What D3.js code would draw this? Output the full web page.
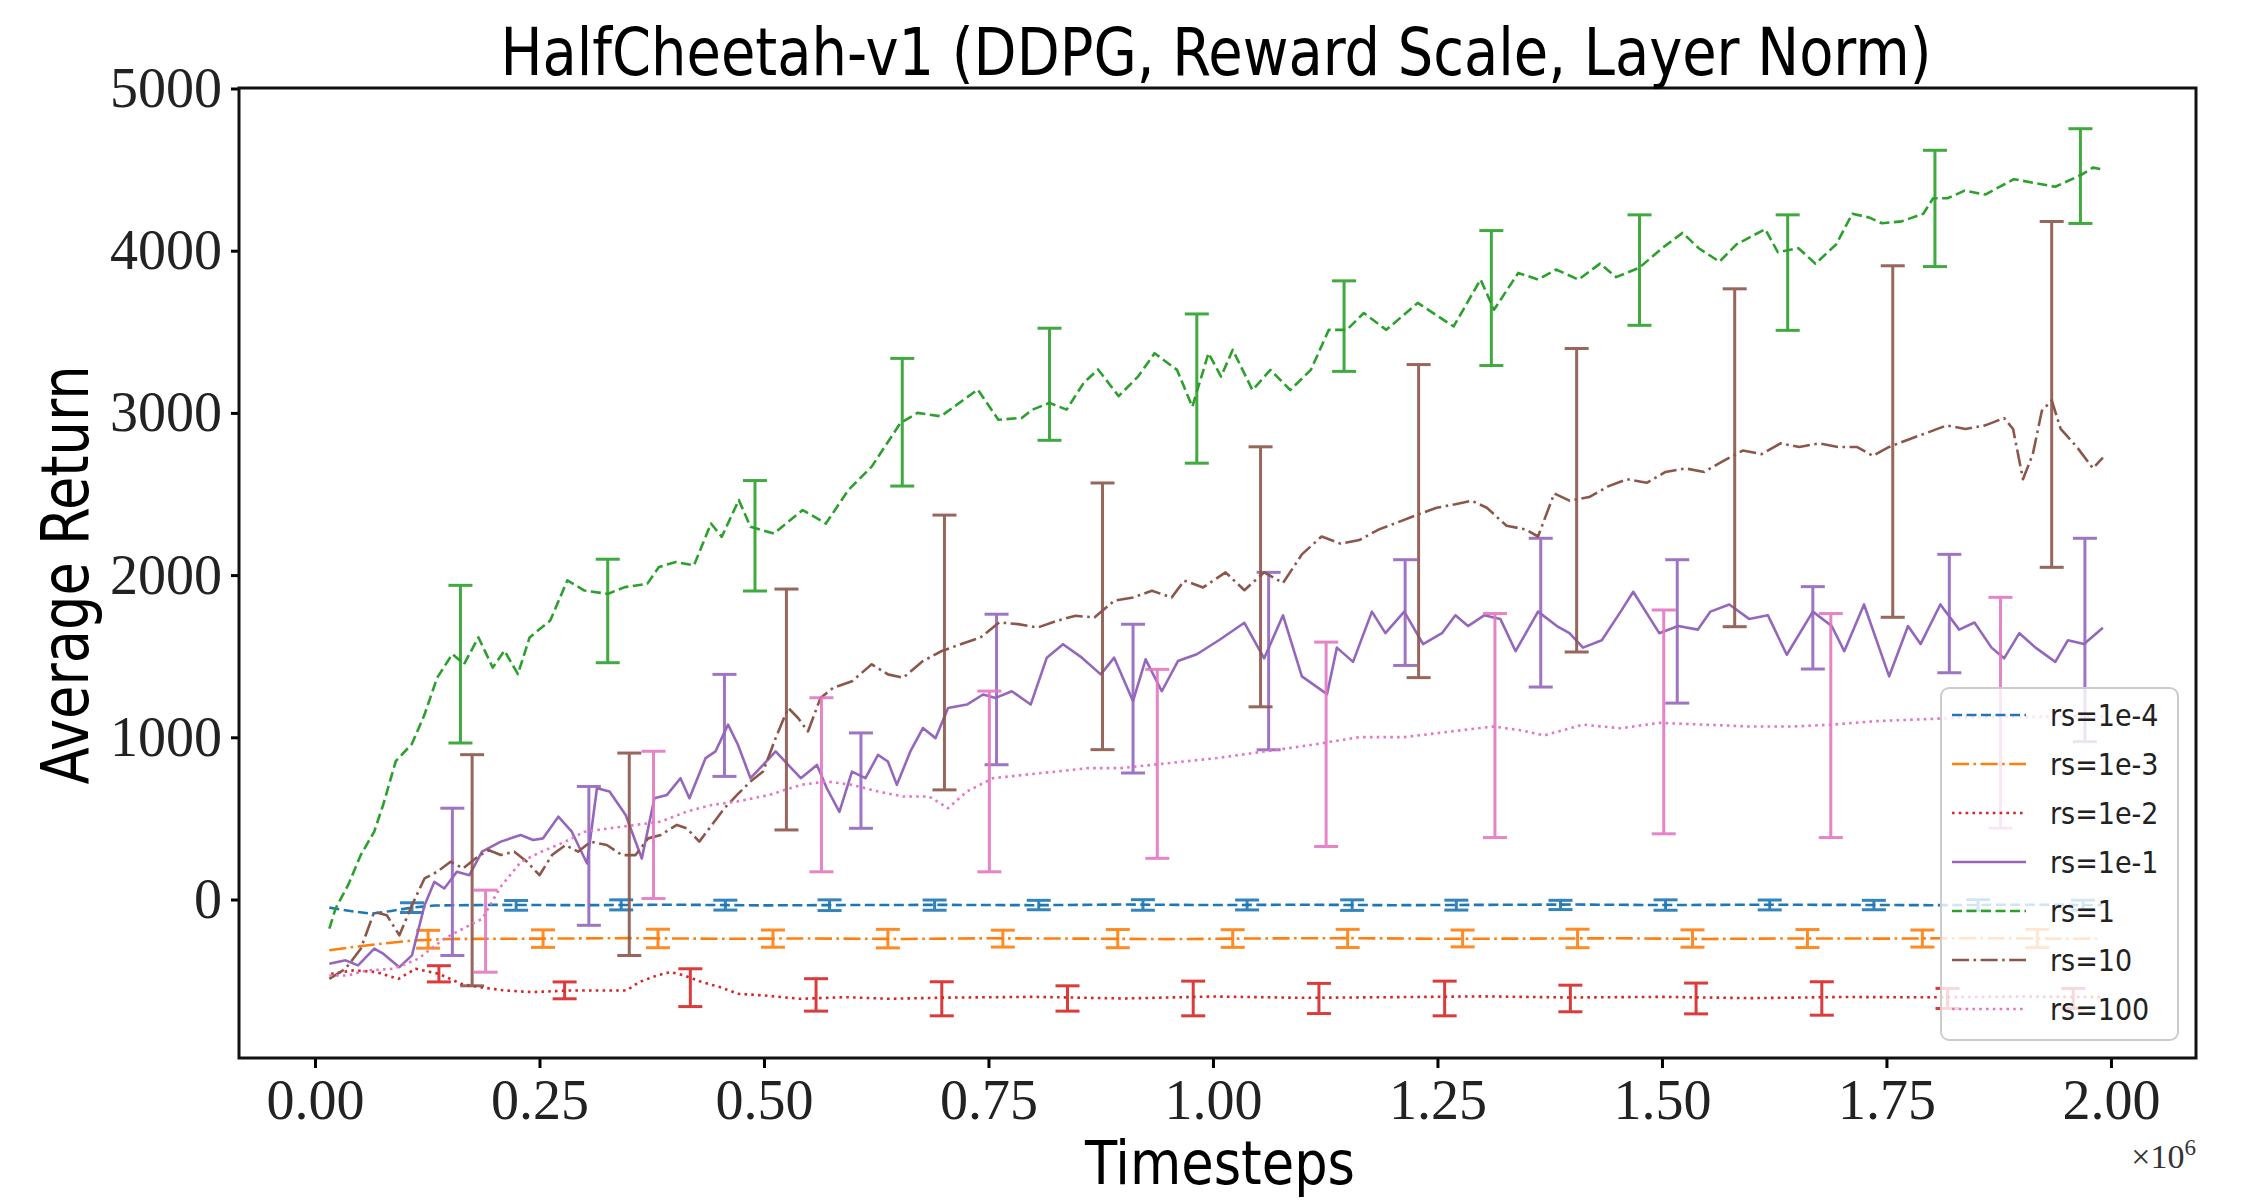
<!DOCTYPE html>
<html>
<head>
<meta charset="utf-8">
<script src="https://cdn.jsdelivr.net/npm/d3@7/dist/d3.min.js"></script>
<style>
	body { margin: 0; background: #fff; }
</style>
</head>
<body>
<div id="chart"></div>
<script>
(function() {
	"use strict";

	// x values are timesteps in units of 1e6
	var seriesNames = ["rs=1e-4", "rs=1e-3", "rs=1e-2", "rs=1e-1", "rs=1", "rs=10", "rs=100"];
	var xTickValues = [0, 0.25, 0.5, 0.75, 1.0, 1.25, 1.5, 1.75, 2.0];
	var xTickLabels = ["0.00", "0.25", "0.50", "0.75", "1.00", "1.25", "1.50", "1.75", "2.00"];
	var yTickValues = [0, 1000, 2000, 3000, 4000, 5000];

	// rs=1e-4
	var steps_1e4 = [0.016, 0.043, 0.063, 0.083, 0.108, 0.133, 0.2, 0.3, 0.4, 0.5, 0.6, 0.7, 0.8, 0.9, 1.0, 1.1, 1.2, 1.3, 1.4, 1.5, 1.6, 1.7, 1.8, 1.9, 1.99];
	var ret_1e4 = [-50, -74, -87, -72, -50, -37, -33, -35, -32, -36, -34, -33, -35, -31, -34, -32, -35, -33, -31, -34, -32, -33, -35, -32, -34];
	var errSteps_1e4 = [0.108, 0.224, 0.341, 0.457, 0.573, 0.690, 0.806, 0.922, 1.038, 1.155, 1.271, 1.387, 1.504, 1.620, 1.736, 1.852, 1.969];
	var errLo_1e4 = [-80, -66, -64, -65, -68, -66, -63, -66, -64, -67, -65, -62, -66, -64, -63, -66, -65];
	var errHi_1e4 = [-20, -6, -2, -4, -2, -3, -5, -1, -3, -2, -4, -5, -2, -3, -5, -1, -4];

	// rs=1e-3
	var steps_1e3 = [0.016, 0.043, 0.075, 0.110, 0.15, 0.25, 0.35, 0.45, 0.55, 0.65, 0.75, 0.85, 0.95, 1.05, 1.15, 1.25, 1.35, 1.45, 1.55, 1.65, 1.75, 1.85, 1.95, 1.99];
	var ret_1e3 = [-313, -292, -272, -252, -243, -241, -238, -242, -240, -243, -239, -241, -244, -240, -238, -242, -241, -239, -243, -240, -241, -238, -242, -240];
	var errSteps_1e3 = [0.126, 0.254, 0.382, 0.510, 0.638, 0.766, 0.894, 1.022, 1.150, 1.278, 1.406, 1.534, 1.662, 1.790, 1.918];
	var errLo_1e3 = [-300, -295, -297, -294, -298, -293, -297, -295, -296, -292, -297, -294, -296, -293, -296];
	var errHi_1e3 = [-190, -187, -183, -188, -184, -189, -185, -186, -184, -188, -183, -187, -185, -188, -184];

	// rs=1e-2
	var steps_1e2 = [0.018, 0.043, 0.068, 0.093, 0.112, 0.138, 0.163, 0.183, 0.212, 0.242, 0.282, 0.317, 0.347, 0.361, 0.381, 0.396, 0.411, 0.431, 0.451, 0.471, 0.501, 0.540, 0.590, 0.640, 0.70, 0.80, 0.90, 1.0, 1.1, 1.2, 1.3, 1.4, 1.5, 1.6, 1.7, 1.8, 1.9, 1.99];
	var ret_1e2 = [-458, -437, -447, -489, -427, -458, -520, -540, -561, -571, -561, -561, -561, -509, -468, -447, -468, -509, -540, -581, -592, -612, -602, -612, -605, -600, -610, -598, -606, -602, -597, -604, -600, -608, -601, -603, -598, -602];
	var errSteps_1e2 = [0.138, 0.278, 0.418, 0.558, 0.698, 0.838, 0.978, 1.118, 1.258, 1.398, 1.538, 1.678, 1.818, 1.958];
	var errLo_1e2 = [-508, -612, -660, -688, -717, -688, -717, -703, -717, -692, -705, -713, -672, -672];
	var errHi_1e2 = [-408, -508, -427, -488, -507, -532, -503, -517, -503, -528, -515, -507, -548, -548];

	// rs=1e-1
	var steps_1e1 = [0.016, 0.034, 0.048, 0.066, 0.076, 0.094, 0.108, 0.122, 0.133, 0.144, 0.158, 0.172, 0.186, 0.207, 0.229, 0.243, 0.254, 0.271, 0.286, 0.303, 0.314, 0.328, 0.346, 0.364, 0.378, 0.392, 0.407, 0.417, 0.435, 0.446, 0.460, 0.471, 0.485, 0.499, 0.513, 0.527, 0.541, 0.559, 0.570, 0.584, 0.598, 0.613, 0.627, 0.638, 0.648, 0.663, 0.677, 0.691, 0.705, 0.726, 0.744, 0.758, 0.776, 0.797, 0.815, 0.833, 0.854, 0.875, 0.890, 0.911, 0.925, 0.943, 0.961, 0.982, 1.007, 1.035, 1.057, 1.078, 1.099, 1.127, 1.138, 1.156, 1.177, 1.192, 1.213, 1.234, 1.255, 1.270, 1.284, 1.302, 1.320, 1.337, 1.362, 1.383, 1.397, 1.412, 1.433, 1.454, 1.468, 1.497, 1.518, 1.540, 1.554, 1.575, 1.597, 1.618, 1.639, 1.668, 1.689, 1.703, 1.725, 1.753, 1.774, 1.788, 1.810, 1.831, 1.848, 1.867, 1.881, 1.898, 1.916, 1.938, 1.952, 1.970, 1.991];
	var ret_1e1 = [-396, -375, -406, -303, -334, -417, -344, -35, 109, 68, 171, 150, 295, 357, 398, 367, 377, 511, 418, 222, 686, 666, 521, 253, 624, 645, 748, 624, 872, 913, 1078, 954, 748, 830, 913, 830, 748, 830, 686, 541, 789, 748, 892, 851, 707, 913, 1057, 995, 1181, 1202, 1264, 1243, 1284, 1202, 1491, 1574, 1491, 1388, 1491, 1223, 1481, 1284, 1470, 1512, 1600, 1706, 1487, 1752, 1376, 1266, 1553, 1465, 1775, 1642, 1775, 1575, 1642, 1752, 1686, 1752, 1730, 1531, 1775, 1686, 1642, 1553, 1598, 1775, 1897, 1642, 1686, 1664, 1775, 1819, 1730, 1752, 1509, 1775, 1686, 1531, 1819, 1376, 1686, 1575, 1819, 1664, 1708, 1553, 1487, 1642, 1553, 1465, 1598, 1575, 1675];
	var errSteps_1e1 = [0.153, 0.305, 0.456, 0.608, 0.759, 0.911, 1.062, 1.214, 1.365, 1.517, 1.668, 1.820, 1.971];
	var errLo_1e1 = [-345, -159, 759, 439, 831, 780, 923, 1443, 1310, 1211, 1421, 1398, 973];
	var errHi_1e1 = [563, 697, 1388, 1027, 1759, 1697, 2017, 2095, 2227, 2095, 1929, 2128, 2227];

	// rs=1
	var steps_1 = [0.016, 0.023, 0.037, 0.051, 0.066, 0.076, 0.090, 0.108, 0.122, 0.136, 0.153, 0.166, 0.182, 0.198, 0.211, 0.226, 0.239, 0.262, 0.281, 0.300, 0.326, 0.345, 0.370, 0.383, 0.402, 0.422, 0.441, 0.453, 0.472, 0.485, 0.511, 0.543, 0.569, 0.594, 0.620, 0.652, 0.671, 0.697, 0.738, 0.761, 0.787, 0.799, 0.818, 0.837, 0.856, 0.872, 0.895, 0.917, 0.935, 0.960, 0.977, 0.995, 1.009, 1.022, 1.044, 1.064, 1.086, 1.109, 1.129, 1.149, 1.168, 1.193, 1.228, 1.268, 1.298, 1.313, 1.340, 1.362, 1.382, 1.407, 1.431, 1.449, 1.475, 1.500, 1.523, 1.541, 1.564, 1.583, 1.615, 1.629, 1.652, 1.671, 1.694, 1.712, 1.731, 1.745, 1.767, 1.791, 1.802, 1.818, 1.837, 1.860, 1.892, 1.915, 1.938, 1.966, 1.980, 1.991];
	var ret_1 = [-179, -55, 90, 274, 419, 585, 853, 960, 1140, 1367, 1513, 1451, 1616, 1430, 1534, 1389, 1616, 1720, 1967, 1905, 1884, 1926, 1946, 2050, 2081, 2060, 2318, 2236, 2463, 2298, 2256, 2401, 2318, 2525, 2669, 2938, 3000, 2979, 3144, 2958, 2969, 3020, 3062, 3020, 3185, 3268, 3103, 3227, 3368, 3265, 3038, 3368, 3224, 3389, 3141, 3265, 3141, 3265, 3512, 3512, 3616, 3512, 3678, 3533, 3822, 3636, 3863, 3822, 3884, 3822, 3920, 3837, 3896, 4015, 4110, 4015, 3932, 4039, 4133, 3991, 4015, 3920, 4039, 4228, 4204, 4169, 4181, 4228, 4323, 4323, 4370, 4346, 4441, 4417, 4394, 4465, 4512, 4500];
	var errSteps_1 = [0.162, 0.326, 0.490, 0.654, 0.818, 0.982, 1.146, 1.310, 1.475, 1.640, 1.804, 1.966];
	var errLo_1 = [965, 1460, 1902, 2549, 2831, 2690, 3256, 3292, 3540, 3509, 3902, 4168];
	var errHi_1 = [1937, 2098, 2583, 3336, 3522, 3610, 3814, 4124, 4221, 4221, 4619, 4752];

	// rs=10
	var steps_10 = [0.016, 0.034, 0.051, 0.066, 0.080, 0.094, 0.108, 0.122, 0.136, 0.151, 0.165, 0.179, 0.193, 0.207, 0.222, 0.236, 0.250, 0.264, 0.279, 0.293, 0.307, 0.325, 0.342, 0.357, 0.371, 0.385, 0.403, 0.414, 0.428, 0.442, 0.456, 0.470, 0.485, 0.499, 0.513, 0.527, 0.538, 0.549, 0.563, 0.577, 0.598, 0.620, 0.638, 0.655, 0.677, 0.698, 0.719, 0.741, 0.762, 0.783, 0.805, 0.826, 0.847, 0.868, 0.890, 0.911, 0.932, 0.954, 0.968, 0.989, 1.014, 1.035, 1.057, 1.078, 1.099, 1.121, 1.142, 1.163, 1.185, 1.206, 1.227, 1.249, 1.270, 1.288, 1.305, 1.327, 1.348, 1.362, 1.380, 1.397, 1.419, 1.440, 1.461, 1.483, 1.504, 1.526, 1.547, 1.568, 1.590, 1.611, 1.632, 1.653, 1.675, 1.696, 1.717, 1.735, 1.753, 1.774, 1.796, 1.817, 1.838, 1.860, 1.881, 1.891, 1.902, 1.913, 1.923, 1.934, 1.944, 1.962, 1.980, 1.991];
	var ret_10 = [-489, -427, -303, -76, -97, -221, -35, 130, 171, 233, 192, 254, 305, 274, 295, 233, 150, 274, 336, 295, 357, 336, 274, 274, 377, 398, 460, 439, 357, 460, 563, 645, 728, 789, 995, 1181, 1119, 1036, 1243, 1305, 1346, 1450, 1388, 1367, 1470, 1532, 1574, 1615, 1708, 1698, 1677, 1718, 1749, 1739, 1842, 1862, 1904, 1862, 1966, 1924, 2017, 1907, 2017, 1951, 2128, 2238, 2194, 2216, 2282, 2326, 2371, 2415, 2437, 2459, 2415, 2304, 2282, 2238, 2503, 2459, 2481, 2547, 2591, 2569, 2636, 2658, 2636, 2702, 2768, 2746, 2812, 2790, 2812, 2790, 2790, 2735, 2790, 2835, 2879, 2923, 2901, 2923, 2968, 2901, 2591, 2746, 3012, 3078, 2901, 2790, 2658, 2724];
	var errSteps_10 = [0.175, 0.350, 0.525, 0.701, 0.877, 1.053, 1.229, 1.405, 1.581, 1.757, 1.934];
	var errLo_10 = [-532, -345, 429, 676, 924, 1188, 1368, 1526, 1682, 1740, 2048];
	var errHi_10 = [893, 903, 1914, 2370, 2568, 2791, 3298, 3397, 3765, 3907, 4180];

	// rs=100
	var steps_100 = [0.016, 0.037, 0.058, 0.087, 0.115, 0.144, 0.165, 0.186, 0.207, 0.229, 0.250, 0.279, 0.300, 0.328, 0.357, 0.385, 0.414, 0.442, 0.470, 0.506, 0.541, 0.570, 0.598, 0.627, 0.655, 0.684, 0.705, 0.726, 0.755, 0.790, 0.826, 0.861, 0.897, 0.932, 0.968, 1.004, 1.028, 1.071, 1.113, 1.163, 1.213, 1.262, 1.312, 1.341, 1.369, 1.412, 1.454, 1.497, 1.547, 1.597, 1.647, 1.689, 1.739, 1.789, 1.838, 1.9, 1.95, 1.991];
	var ret_100 = [-468, -468, -437, -427, -365, -241, -179, -120, 80, 230, 290, 357, 418, 439, 460, 480, 542, 583, 604, 645, 707, 728, 707, 666, 635, 635, 563, 666, 748, 769, 789, 810, 810, 830, 851, 872, 890, 923, 956, 1001, 1001, 1034, 1067, 1045, 1012, 1078, 1056, 1089, 1078, 1067, 1067, 1078, 1100, 1111, 1122, 1125, 1130, 1128];
	var errSteps_100 = [0.190, 0.377, 0.564, 0.751, 0.938, 1.126, 1.314, 1.502, 1.688, 1.877];
	var errLo_100 = [-448, 6, 171, 171, 254, 327, 382, 405, 382, 440];
	var errHi_100 = [58, 914, 1244, 1285, 1419, 1587, 1763, 1785, 1763, 1863];

	var colors = ["#1f77b4", "#ff7f0e", "#d62728", "#9467bd", "#2ca02c", "#8c564b", "#e377c2"];
	var dashes = ["10,4.5", "17,4.5,2.6,4.5", "2.6,4.2", null, "10,4.5", "17,4.5,2.6,4.5", "2.6,4.2"];

	var series = [
		{ t: steps_1e4, v: ret_1e4, et: errSteps_1e4, lo: errLo_1e4, hi: errHi_1e4 },
		{ t: steps_1e3, v: ret_1e3, et: errSteps_1e3, lo: errLo_1e3, hi: errHi_1e3 },
		{ t: steps_1e2, v: ret_1e2, et: errSteps_1e2, lo: errLo_1e2, hi: errHi_1e2 },
		{ t: steps_1e1, v: ret_1e1, et: errSteps_1e1, lo: errLo_1e1, hi: errHi_1e1 },
		{ t: steps_1, v: ret_1, et: errSteps_1, lo: errLo_1, hi: errHi_1 },
		{ t: steps_10, v: ret_10, et: errSteps_10, lo: errLo_10, hi: errHi_10 },
		{ t: steps_100, v: ret_100, et: errSteps_100, lo: errLo_100, hi: errHi_100 }
	];
	series.forEach(function(s, i) {
		s.name = seriesNames[i];
		s.color = colors[i];
		s.dash = dashes[i];
	});

	var width = 2243;
	var height = 1200;
	var left = 239, right = 2196, top = 88, bottom = 1058;
	var lw = 2.6;

	var svg = d3.select("#chart").append("svg")
		.attr("width", width)
		.attr("height", height)
		.style("display", "block");

	var x = d3.scaleLinear().domain([-0.0846, 2.0947]).range([left, right]);
	var y = d3.scaleLinear().domain([-977, 5003]).range([bottom, top]);

	svg.append("defs").append("clipPath")
		.attr("id", "plotclip")
		.append("rect")
		.attr("x", left)
		.attr("y", top)
		.attr("width", right - left)
		.attr("height", bottom - top);

	var plot = svg.append("g").attr("clip-path", "url(#plotclip)");

	var line = d3.line()
		.x(function(d) { return x(d[0]); })
		.y(function(d) { return y(d[1]); });

	series.forEach(function(s) {
		var g = plot.append("g");

		g.append("path")
			.datum(d3.zip(s.t, s.v))
			.attr("d", line)
			.attr("fill", "none")
			.attr("stroke", s.color)
			.attr("stroke-width", lw)
			.attr("stroke-linejoin", "round")
			.attr("stroke-dasharray", s.dash);

		var bars = g.selectAll("g.bar")
			.data(d3.range(s.et.length))
			.enter()
			.append("g")
			.attr("class", "bar")
			.attr("stroke", s.color)
			.attr("stroke-width", 3)
			.attr("opacity", 0.9);

		bars.append("line")
			.attr("x1", function(i) { return x(s.et[i]); })
			.attr("x2", function(i) { return x(s.et[i]); })
			.attr("y1", function(i) { return y(s.lo[i]); })
			.attr("y2", function(i) { return y(s.hi[i]); });

		["lo", "hi"].forEach(function(k) {
			bars.append("line")
				.attr("x1", function(i) { return x(s.et[i]) - 12; })
				.attr("x2", function(i) { return x(s.et[i]) + 12; })
				.attr("y1", function(i) { return y(s[k][i]); })
				.attr("y2", function(i) { return y(s[k][i]); });
		});
	});

	// axes
	var tickFont = "'Liberation Serif', 'Times New Roman', serif";

	var xAxis = d3.axisBottom(x)
		.tickValues(xTickValues)
		.tickFormat(function(d, i) { return xTickLabels[i]; })
		.tickSize(10)
		.tickSizeOuter(0)
		.tickPadding(11);

	var gx = svg.append("g")
		.attr("transform", "translate(0," + bottom + ")")
		.call(xAxis);

	var yAxis = d3.axisLeft(y)
		.tickValues(yTickValues)
		.tickFormat(d3.format("d"))
		.tickSize(8)
		.tickSizeOuter(0)
		.tickPadding(9);

	var gy = svg.append("g")
		.attr("transform", "translate(" + left + ",0)")
		.call(yAxis);

	[gx, gy].forEach(function(g) {
		g.select(".domain").remove();
		g.selectAll(".tick line").attr("stroke", "#000").attr("stroke-width", 3);
		g.selectAll(".tick text")
			.attr("fill", "#222")
			.style("font-family", tickFont)
			.style("font-size", "56px");
	});

	svg.append("rect")
		.attr("x", left)
		.attr("y", top)
		.attr("width", right - left)
		.attr("height", bottom - top)
		.attr("fill", "none")
		.attr("stroke", "#111")
		.attr("stroke-width", 3);

	// offset text
	var off = svg.append("text")
		.attr("x", right)
		.attr("y", 1168)
		.attr("text-anchor", "end")
		.attr("fill", "#333")
		.style("font-family", tickFont)
		.style("font-size", "34px");
	off.append("tspan").text("\u00d710");
	off.append("tspan").attr("dy", -13).style("font-size", "23px").text("6");

	// labels
	var sansFont = "'DejaVu Sans Condensed', 'DejaVu Sans', sans-serif";

	svg.append("text")
		.attr("x", 1216)
		.attr("y", 75)
		.attr("text-anchor", "middle")
		.attr("textLength", 1431)
		.attr("lengthAdjust", "spacingAndGlyphs")
		.style("font-family", sansFont)
		.style("font-size", "66px")
		.text("HalfCheetah-v1 (DDPG, Reward Scale, Layer Norm)");

	svg.append("text")
		.attr("x", 1220)
		.attr("y", 1184)
		.attr("text-anchor", "middle")
		.attr("textLength", 270)
		.attr("lengthAdjust", "spacingAndGlyphs")
		.style("font-family", sansFont)
		.style("font-size", "60px")
		.text("Timesteps");

	svg.append("text")
		.attr("transform", "translate(88,575) rotate(-90)")
		.attr("text-anchor", "middle")
		.attr("textLength", 419)
		.attr("lengthAdjust", "spacingAndGlyphs")
		.style("font-family", sansFont)
		.style("font-size", "66px")
		.text("Average Return");

	// legend
	var legend = svg.append("g");
	legend.append("rect")
		.attr("x", 1941)
		.attr("y", 688)
		.attr("width", 237)
		.attr("height", 352)
		.attr("rx", 8)
		.attr("fill", "#fff")
		.attr("fill-opacity", 0.8)
		.attr("stroke", "#cccccc")
		.attr("stroke-width", 2);

	var rows = legend.selectAll("g.row")
		.data(series)
		.enter()
		.append("g")
		.attr("class", "row")
		.attr("transform", function(d, i) { return "translate(0," + (715 + i * 49) + ")"; });

	rows.append("line")
		.attr("x1", 1952)
		.attr("x2", 2026)
		.attr("stroke", function(d) { return d.color; })
		.attr("stroke-width", lw)
		.attr("stroke-dasharray", function(d) { return d.dash; });

	rows.append("text")
		.attr("x", 2050)
		.attr("y", 11)
		.attr("fill", "#222")
		.style("font-family", sansFont)
		.style("font-size", "30px")
		.text(function(d) { return d.name; });

})();
</script>
</body>
</html>
